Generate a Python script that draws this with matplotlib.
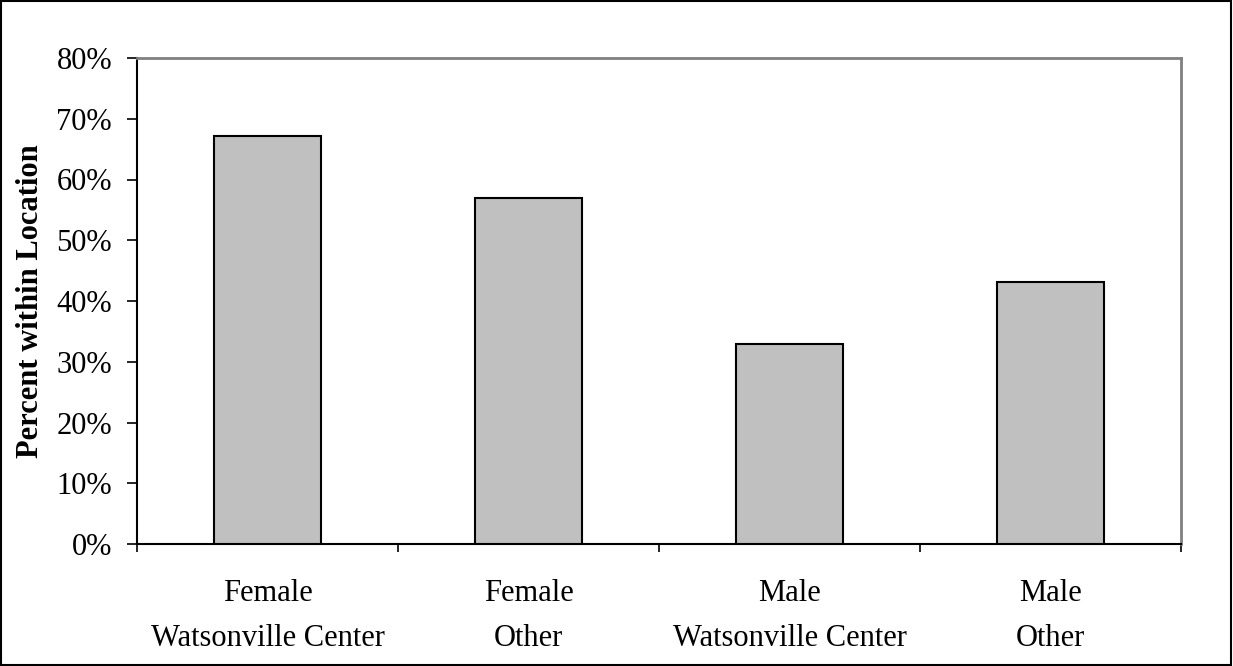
import matplotlib.pyplot as plt
from matplotlib.patches import Rectangle
from matplotlib.ticker import FuncFormatter

categories = ['Female\nWatsonville Center', 'Female\nOther',
              'Male\nWatsonville Center', 'Male\nOther']
percents = [67.2, 57.0, 33.0, 43.2]

plt.rcParams['font.family'] = ['Liberation Serif', 'DejaVu Serif']

fig = plt.figure(figsize=(12.33, 6.66), dpi=100)
ax = fig.add_axes([137 / 1233, 1 - 544 / 666, (1181 - 137) / 1233, (544 - 58) / 666])

x = range(len(categories))
ax.bar(x, percents, width=0.41, color='#c0c0c0', edgecolor='black', linewidth=1.5, zorder=3)

ax.set_xlim(-0.5, len(categories) - 0.5)
ax.set_ylim(0, 80)
ax.set_yticks(range(0, 81, 10))
ax.yaxis.set_major_formatter(FuncFormatter(lambda v, p: f'{v:.0f}%'))

# category boundary ticks, labels centred on bars
ax.set_xticks([i - 0.5 for i in range(len(categories) + 1)])
ax.set_xticklabels([])
ax.set_xticks(list(x), minor=True)
ax.set_xticklabels(categories, minor=True, fontsize=22, linespacing=1.72)
ax.tick_params(axis='x', which='minor', length=0, pad=25)
ax.tick_params(axis='x', which='major', length=6, width=1.2, direction='out')
ax.tick_params(axis='y', length=7, width=1.2, labelsize=22, pad=11)

ax.spines['top'].set_color('#808080')
ax.spines['right'].set_color('#808080')
for s in ['left', 'bottom']:
    ax.spines[s].set_linewidth(1.5)
for s in ['top', 'right']:
    ax.spines[s].set_linewidth(2)

ax.set_ylabel('Percent within Location', fontsize=22, fontweight='bold', labelpad=8)

# outer frame
fig.patches.append(Rectangle((0.001, 0.001), 0.997, 0.997, transform=fig.transFigure,
                             fill=False, edgecolor='black', linewidth=1.5))

fig.savefig('out.png', dpi=100)
